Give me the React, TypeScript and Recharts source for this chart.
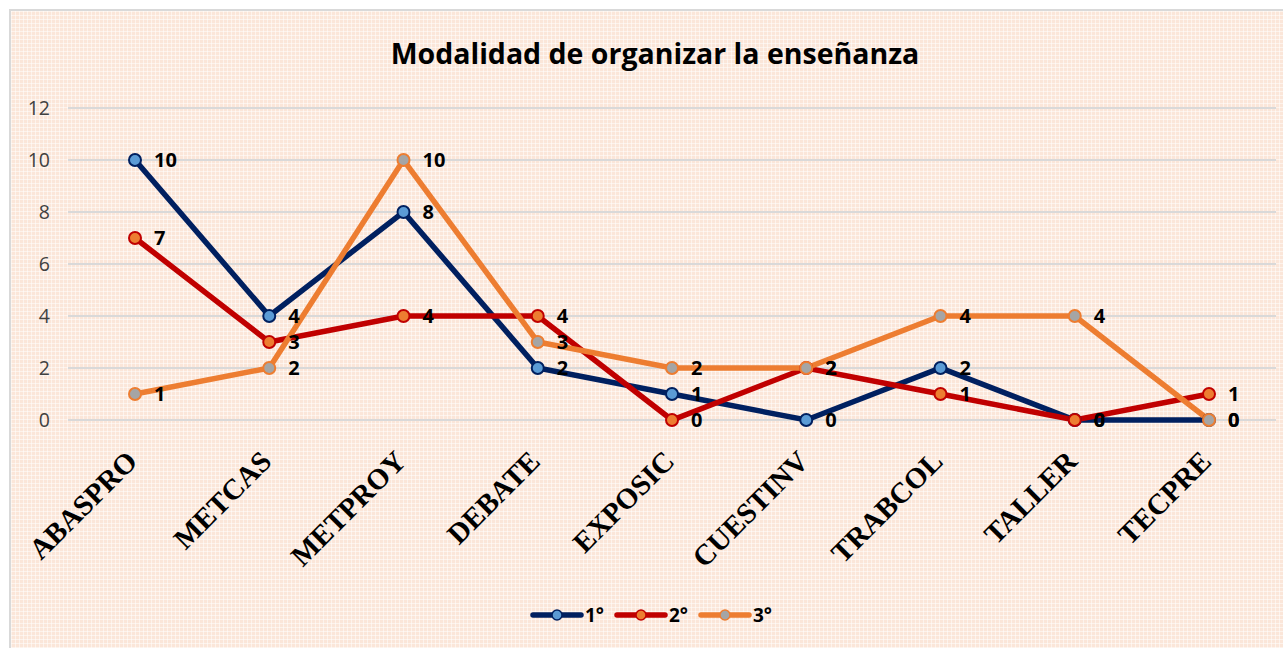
import { LineChart, Line, XAxis, YAxis, CartesianGrid, Legend } from 'recharts';

const categories = ['ABASPRO', 'METCAS', 'METPROY', 'DEBATE', 'EXPOSIC', 'CUESTINV', 'TRABCOL', 'TALLER', 'TECPRE'];
const primero = [10, 4, 8, 2, 1, 0, 2, 0, 0];
const segundo = [7, 3, 4, 4, 0, 2, 1, 0, 1];
const tercero = [1, 2, 10, 3, 2, 2, 4, 4, 0];
const yTicks = [0, 2, 4, 6, 8, 10, 12];

const series = [
  { key: 'p1', name: '1°', line: '#002060', dotFill: '#5b9bd5' },
  { key: 'p2', name: '2°', line: '#c00000', dotFill: '#ed7d31' },
  { key: 'p3', name: '3°', line: '#ed7d31', dotFill: '#a5a5a5' },
];

const data = categories.map((name, i) => ({
  name,
  p1: primero[i],
  p2: segundo[i],
  p3: tercero[i],
}));

const AngledTick = ({ x, y, payload }: any) => (
  <g transform={`translate(${x + 4},${y + 35})`}>
    <text
      x={0}
      y={0}
      transform="rotate(-45)"
      textAnchor="end"
      fontFamily="'Liberation Serif', 'Times New Roman', serif"
      fontWeight={700}
      fontSize={29}
      fill="#000"
    >
      {payload.value}
    </text>
  </g>
);

const LegendContent = () => (
  <div style={{ display: 'flex', justifyContent: 'center', gap: 10, fontFamily: "'Open Sans', sans-serif", fontWeight: 700, fontSize: 19 }}>
    {series.map((s) => (
      <div key={s.key} style={{ display: 'flex', alignItems: 'center' }}>
        <svg width={54} height={14}>
          <line x1={3} y1={7} x2={51} y2={7} stroke={s.line} strokeWidth={5.5} strokeLinecap="round" />
          <circle cx={27} cy={7} r={5} fill={s.dotFill} stroke={s.line} strokeWidth={1.5} />
        </svg>
        <span style={{ marginLeft: 1 }}>{s.name}</span>
      </div>
    ))}
  </div>
);

const App = () => {
  return (
    <div style={{ position: 'fixed', left: 0, top: 0, width: 1283, height: 648, background: '#fff', overflow: 'hidden' }}>
      <div
        style={{
          position: 'absolute',
          left: 9,
          top: 9,
          width: 1290,
          height: 660,
          borderLeft: '2px solid #d9d9d9',
          borderTop: '2px solid #d9d9d9',
          backgroundColor: '#fbe6d9',
          backgroundImage:
            'linear-gradient(90deg, rgba(255,255,255,0.5) 1px, transparent 1px), linear-gradient(rgba(255,255,255,0.5) 1px, transparent 1px)',
          backgroundSize: '4px 4px',
        }}
      />
      <div
        style={{
          position: 'absolute',
          left: 0,
          top: 34,
          width: 1310,
          textAlign: 'center',
          fontFamily: "'Open Sans', sans-serif",
          fontWeight: 700,
          fontSize: 28.5,
          color: '#000',
        }}
      >
        Modalidad de organizar la enseñanza
      </div>
      <div style={{ position: 'absolute', left: 0, top: 0 }}>
        <LineChart width={1283} height={648} data={data} margin={{ top: 108, right: 7, left: 0, bottom: 0 }}>
          <CartesianGrid vertical={false} stroke="#d9d9d9" strokeWidth={2} />
          <XAxis
            dataKey="name"
            axisLine={false}
            tickLine={false}
            interval={0}
            height={228}
            padding={{ left: 67, right: 67 }}
            tick={<AngledTick />}
          />
          <YAxis
            domain={[0, 12]}
            ticks={yTicks}
            width={68}
            axisLine={false}
            tickLine={false}
            tickMargin={12}
            tick={{ fill: '#404040', fontSize: 19.5, fontFamily: "'Open Sans', sans-serif" }}
          />
          <Legend content={<LegendContent />} wrapperStyle={{ left: 0, top: 602, width: 1302, height: 0 }} />
          {series.map((s) => (
            <Line
              key={s.key}
              dataKey={s.key}
              name={s.name}
              stroke={s.line}
              strokeWidth={5.5}
              dot={{ r: 6, fill: s.dotFill, stroke: s.line, strokeWidth: 2 }}
              activeDot={false}
              isAnimationActive={false}
              label={{ position: 'right', offset: 19, fill: '#000', fontSize: 20, fontWeight: 700, fontFamily: "'Open Sans', sans-serif" }}
            />
          ))}
        </LineChart>
      </div>
    </div>
  );
};

export default App;
